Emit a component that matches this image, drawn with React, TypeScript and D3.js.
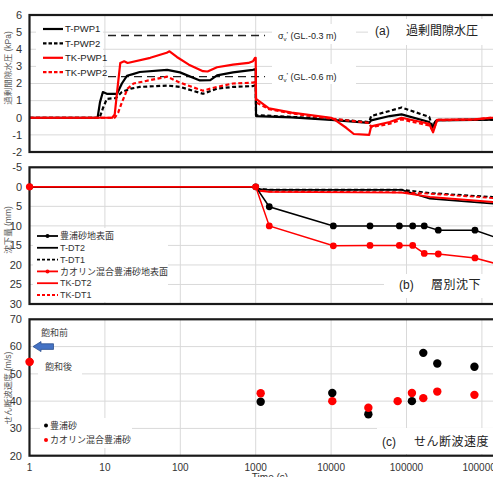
import React from 'react';
import * as d3 from 'd3';

// ---------- axes ----------
const TIME_TICKS = [1, 10, 100, 1000, 10000, 100000, 1000000, 10000000];
const TIME_LABELS = ['1', '10', '100', '1000', '10000', '100000', '1000000', ''];
const PWP_TICKS = [-2, -1, 0, 1, 2, 3, 4, 5, 6];
const SETTLE_TICKS = [-5, 0, 5, 10, 15, 20, 25, 30];
const VS_TICKS = [20, 30, 40, 50, 60, 70];

// ---------- (a) excess pore water pressure ----------
const T_PWP1_T = [1, 8, 8.6, 9.4, 10.6, 14.5, 16.8, 19.6, 23.5, 29, 67, 99, 182, 250, 307, 500, 920, 1000, 1010, 3000, 10000, 32000, 34000, 60000, 86000, 200000, 220000, 250000, 3000000];
const T_PWP1_V = [0, 0, 0.9, 1.5, 1.4, 1.4, 2.0, 2.45, 2.55, 2.67, 2.8, 2.65, 2.18, 2.2, 2.47, 2.65, 2.8, 2.85, 0.1, 0.02, -0.12, -0.3, -0.15, 0.1, 0.2, -0.25, -0.6, -0.15, -0.1];
const T_PWP2_T = [1, 8.5, 9.5, 10.6, 14, 16.8, 22, 29, 67, 99, 200, 307, 500, 920, 1000, 1010, 3000, 10000, 32000, 34000, 60000, 86000, 200000, 220000, 250000, 3000000];
const T_PWP2_V = [0, 0, 0.6, 1.1, 1.15, 1.5, 1.7, 1.8, 1.88, 1.8, 1.4, 1.7, 1.8, 1.85, 1.9, 0.15, 0.05, -0.08, -0.25, 0.1, 0.4, 0.6, 0.05, -0.5, -0.12, -0.1];
const TK_PWP1_T = [1, 12.5, 13.5, 14.5, 16, 18, 20, 40, 66, 72, 90, 130, 200, 230, 307, 500, 800, 920, 980, 1000, 1010, 1500, 3000, 10000, 11000, 16000, 20000, 32000, 34000, 60000, 86000, 200000, 225000, 255000, 800000, 3000000];
const TK_PWP1_V = [0, 0, 0.2, 1.5, 3.2, 3.3, 3.2, 3.5, 3.8, 3.88, 3.55, 3.1, 2.72, 2.7, 2.95, 3.1, 3.2, 3.3, 3.5, 3.5, 1.1, 0.55, 0.3, 0.0, -0.1, -0.6, -0.95, -1.0, -0.5, -0.25, 0.0, -0.35, -0.85, -0.12, -0.1, 0.15];
const TK_PWP2_T = [1, 13.5, 15, 16.8, 20, 24, 67, 99, 200, 250, 307, 500, 920, 1000, 1010, 1500, 3000, 10000, 20000, 32000, 34000, 60000, 86000, 200000, 225000, 255000, 800000, 3000000];
const TK_PWP2_V = [0, 0, 0.3, 0.9, 1.7, 2.0, 2.4, 2.05, 1.58, 1.7, 1.8, 2.0, 2.05, 2.1, 0.9, 0.5, 0.25, -0.05, -0.2, -0.3, -0.55, -0.35, -0.1, -0.45, -0.75, -0.15, -0.1, 0.15];
const SIGMA_V_LEVELS = [4.8, 2.4];
const SIGMA_V_LABELS = [' (GL.-0.3 m)', ' (GL.-0.6 m)'];
const SIGMA_V_SPAN = [11, 1330];

// ---------- (b) settlement ----------
const SURF_T = [1, 1000, 1514, 10700, 32800, 80400, 120800, 172000, 264000, 809000, 2600000];
const T_SURF_V = [0, 0, 5.1, 10, 10, 10, 10, 10, 11.1, 11.1, 14.5];
const TK_SURF_V = [0, 0, 10, 15.1, 15, 15, 15, 17.05, 17.2, 18.2, 20.9];
const DT_T = [1, 1000, 1100, 1500, 86000, 204000, 3000000];
const T_DT2_V = [0, 0, 0.6, 0.8, 0.8, 3.0, 4.8];
const T_DT1_V = [0, 0, 0.5, 0.7, 0.7, 1.56, 3.0];
const TK_DT2_V = [0, 0, 1.0, 1.3, 1.5, 2.6, 4.4];
const TK_DT1_V = [0, 0, 0.9, 1.2, 1.4, 1.77, 3.3];

// ---------- (c) shear wave velocity ----------
const VS_T_T = [1164, 10370, 31200, 118000, 167000, 256000, 796000];
const VS_T_V = [39.8, 43, 35.2, 40, 57.7, 53.8, 52.6];
const VS_TK_T = [1, 1164, 10370, 31200, 76300, 118000, 167000, 256000, 796000];
const VS_TK_V = [54.4, 42.9, 40, 37.6, 40, 43, 41.1, 43.5, 42.3];
const VS_PRE_SAT = 60;

const FONT = '"Liberation Sans", Arial, "Noto Sans CJK JP", sans-serif';
const GRID = '#d9d9d9';
const RED = '#ff0000';
const BLK = '#000000';

const X0 = 29.5;
const DEC = 75.4;
const x = d3.scaleLog().domain([1, 1e7]).range([X0, X0 + 7 * DEC]);
const RIGHT = 560;

const yA = d3.scaleLinear().domain([-2, 6]).range([152, 15]);
const yB = d3.scaleLinear().domain([-5, 30]).range([167.3, 304]);
const yC = d3.scaleLinear().domain([20, 70]).range([455.7, 319.3]);

const zip = (t: number[], v: number[]) => t.map((tt, i) => [tt, v[i]] as [number, number]);

function mkLine(y: d3.ScaleLinear<number, number>) {
  return d3.line<[number, number]>().x(d => x(d[0])).y(d => y(d[1]));
}

function ext(y: d3.ScaleLinear<number, number>) {
  const r = y.range();
  return [Math.min(r[0], r[1]), Math.max(r[0], r[1])];
}

function Grid({ y, ticks }: { y: d3.ScaleLinear<number, number>; ticks: number[] }) {
  const [top, bot] = ext(y);
  return (
    <g>
      {ticks.map(t => (
        <line key={'h' + t} x1={X0} x2={RIGHT} y1={y(t)} y2={y(t)} stroke={GRID} strokeWidth={1} />
      ))}
      {TIME_TICKS.map(t => (
        <line key={'v' + t} x1={x(t)} x2={x(t)} y1={top} y2={bot} stroke={GRID} strokeWidth={1} />
      ))}
    </g>
  );
}

function YTicks({ y, ticks }: { y: d3.ScaleLinear<number, number>; ticks: number[] }) {
  return (
    <g>
      {ticks.map(t => (
        <text key={t} x={22} y={y(t)} dy="0.35em" textAnchor="end" fontSize={11} fill="#333" fontFamily={FONT}>
          {t}
        </text>
      ))}
    </g>
  );
}

function Frame({ y }: { y: d3.ScaleLinear<number, number> }) {
  const [top, bot] = ext(y);
  return <rect x={X0} y={top} width={RIGHT - X0} height={bot - top} fill="none" stroke="#1a1a1a" strokeWidth={2.2} />;
}

function ClipDef({ id, y }: { id: string; y: d3.ScaleLinear<number, number> }) {
  const [top, bot] = ext(y);
  return (
    <clipPath id={id}>
      <rect x={X0} y={top} width={RIGHT - X0} height={bot - top} />
    </clipPath>
  );
}

export default function App() {
  const lA = mkLine(yA);
  const lB = mkLine(yB);

  const aSeries = [
    { name: 'T-PWP1', t: T_PWP1_T, v: T_PWP1_V, color: BLK, dash: '' },
    { name: 'T-PWP2', t: T_PWP2_T, v: T_PWP2_V, color: BLK, dash: '4,2.5' },
    { name: 'TK-PWP1', t: TK_PWP1_T, v: TK_PWP1_V, color: RED, dash: '' },
    { name: 'TK-PWP2', t: TK_PWP2_T, v: TK_PWP2_V, color: RED, dash: '4,2.5' },
  ];
  const bLines = [
    { name: 'T-DT2', v: T_DT2_V, color: BLK, dash: '' },
    { name: 'T-DT1', v: T_DT1_V, color: BLK, dash: '4,2.5' },
    { name: 'TK-DT2', v: TK_DT2_V, color: RED, dash: '' },
    { name: 'TK-DT1', v: TK_DT1_V, color: RED, dash: '4,2.5' },
  ];
  const bLegend = [
    { name: '豊浦砂地表面', color: BLK, dash: '', marker: true },
    { name: 'T-DT2', color: BLK, dash: '', marker: false },
    { name: 'T-DT1', color: BLK, dash: '3,2', marker: false },
    { name: 'カオリン混合豊浦砂地表面', color: RED, dash: '', marker: true },
    { name: 'TK-DT2', color: RED, dash: '', marker: false },
    { name: 'TK-DT1', color: RED, dash: '3,2', marker: false },
  ];

  const arrowY = yC(VS_PRE_SAT);

  return (
    <svg width={493} height={477} style={{ position: 'absolute', left: 0, top: 0, background: '#fff' }} fontFamily={FONT}>
      <defs>
        <ClipDef id="ca" y={yA} />
        <ClipDef id="cb" y={yB} />
        <ClipDef id="cc" y={yC} />
      </defs>
      <rect x={0} y={0} width={493} height={477} fill="#fff" />

      {/* ===== Panel (a) ===== */}
      <Grid y={yA} ticks={PWP_TICKS} />
      <rect x={36} y={20} width={67} height={60} fill="#fff" />
      <rect x={368} y={19} width={125} height={26} fill="#fff" />
      <rect x={272} y={24} width={84} height={20} fill="#fff" />
      <rect x={272} y={64} width={84} height={20} fill="#fff" />
      <g clipPath="url(#ca)">
        {SIGMA_V_LEVELS.map(l => (
          <line key={l} x1={x(SIGMA_V_SPAN[0])} x2={x(SIGMA_V_SPAN[1])} y1={yA(l)} y2={yA(l)} stroke="#222" strokeWidth={1.4} strokeDasharray="8,5" />
        ))}
        {aSeries.map(s => (
          <path key={s.name} d={lA(zip(s.t, s.v)) || ''} fill="none" stroke={s.color} strokeWidth={2.2} strokeDasharray={s.dash} strokeLinejoin="round" />
        ))}
      </g>
      {SIGMA_V_LEVELS.map((l, i) => (
        <text key={'s' + l} x={278} y={yA(l)} dy="0.35em" fontSize={9} fill="#222">
          σ<tspan fontSize={6} dy={2}>v</tspan><tspan dy={-4} fontSize={8}>'</tspan><tspan dy={2}>{SIGMA_V_LABELS[i]}</tspan>
        </text>
      ))}
      {aSeries.map((s, i) => (
        <g key={'la' + s.name}>
          <line x1={43} x2={63} y1={29 + i * 14.4} y2={29 + i * 14.4} stroke={s.color} strokeWidth={2.2} strokeDasharray={s.dash ? '3.5,2' : ''} />
          <text x={65} y={29 + i * 14.4} dy="0.35em" fontSize={9.5} fill="#222">{s.name}</text>
        </g>
      ))}
      <text x={375} y={31} dy="0.35em" fontSize={12} fill="#222">(a)</text>
      <text x={406} y={31} dy="0.35em" fontSize={12} fill="#222">過剰間隙水圧</text>
      <Frame y={yA} />
      <YTicks y={yA} ticks={PWP_TICKS} />
      <text transform={`translate(8,68) rotate(-90)`} textAnchor="middle" fontSize={8.5} fill="#595959" dy="0.35em">過剰間隙水圧 (kPa)</text>

      {/* ===== Panel (b) ===== */}
      <Grid y={yB} ticks={SETTLE_TICKS} />
      <rect x={33} y={228} width={135} height={74} fill="#fff" />
      <rect x={384} y={274} width={109} height={24} fill="#fff" />
      <g clipPath="url(#cb)">
        {bLines.map(s => (
          <path key={s.name} d={lB(zip(DT_T, s.v)) || ''} fill="none" stroke={s.color} strokeWidth={1.8} strokeDasharray={s.dash} strokeLinejoin="round" />
        ))}
        <path d={lB(zip(SURF_T, T_SURF_V)) || ''} fill="none" stroke={BLK} strokeWidth={1.5} />
        {SURF_T.map((t, i) => (
          <circle key={'bk' + i} cx={x(t)} cy={yB(T_SURF_V[i])} r={3.4} fill={BLK} />
        ))}
        <path d={lB(zip(SURF_T, TK_SURF_V)) || ''} fill="none" stroke={RED} strokeWidth={1.5} />
        {SURF_T.map((t, i) => (
          <circle key={'br' + i} cx={x(t)} cy={yB(TK_SURF_V[i])} r={3.4} fill={RED} />
        ))}
      </g>
      {bLegend.map((s, i) => {
        const yy = 236 + i * 11.8;
        return (
          <g key={'lb' + i}>
            <line x1={37} x2={58} y1={yy} y2={yy} stroke={s.color} strokeWidth={1.8} strokeDasharray={s.dash} />
            {s.marker && <circle cx={47.5} cy={yy} r={2} fill={s.color} />}
            <text x={60} y={yy} dy="0.35em" fontSize={9} fill="#333">{s.name}</text>
          </g>
        );
      })}
      <text x={399} y={285} dy="0.35em" fontSize={12} fill="#222">(b)</text>
      <text x={431} y={285} dy="0.35em" fontSize={12} fill="#222" letterSpacing={0.5}>層別沈下</text>
      <Frame y={yB} />
      {/* red marker at t=1 sits on the axis line */}
      <circle cx={x(SURF_T[0])} cy={yB(TK_SURF_V[0])} r={3.6} fill={RED} />
      <YTicks y={yB} ticks={SETTLE_TICKS} />
      <text transform={`translate(8,230) rotate(-90)`} textAnchor="middle" fontSize={8.5} fill="#595959" dy="0.35em">沈下量 (mm)</text>

      {/* ===== Panel (c) ===== */}
      <Grid y={yC} ticks={VS_TICKS} />
      <rect x={36} y={325} width={36} height={18} fill="#fff" />
      <rect x={38} y={359} width={44} height={18} fill="#fff" />
      <rect x={40} y={418} width={92} height={30} fill="#fff" />
      <rect x={377} y={428} width={116} height={26} fill="#fff" />
      <g clipPath="url(#cc)">
        {VS_T_T.map((t, i) => (
          <circle key={'ck' + i} cx={x(t)} cy={yC(VS_T_V[i])} r={4.2} fill={BLK} />
        ))}
        {VS_TK_T.map((t, i) => (
          <circle key={'cr' + i} cx={x(t)} cy={yC(VS_TK_V[i])} r={4.2} fill={RED} />
        ))}
      </g>
      <path
        d={`M${33},${arrowY} L${41},${arrowY - 5} L${41},${arrowY - 2.8} L${53.5},${arrowY - 2.8} L${53.5},${arrowY + 2.8} L${41},${arrowY + 2.8} L${41},${arrowY + 5} Z`}
        fill="#4472c4" stroke="#2f528f" strokeWidth={0.8}
      />
      <text x={41} y={333} dy="0.35em" fontSize={9} fill="#444">飽和前</text>
      <text x={45} y={367} dy="0.35em" fontSize={9} fill="#444">飽和後</text>
      <circle cx={46} cy={425.5} r={2} fill={BLK} />
      <text x={50} y={425.5} dy="0.35em" fontSize={9} fill="#333">豊浦砂</text>
      <circle cx={46} cy={440} r={2} fill={RED} />
      <text x={50} y={440} dy="0.35em" fontSize={9} fill="#333">カオリン混合豊浦砂</text>
      <text x={382} y={441.5} dy="0.35em" fontSize={12} fill="#222">(c)</text>
      <text x={414} y={441.5} dy="0.35em" fontSize={12} fill="#222" letterSpacing={0.5}>せん断波速度</text>
      <Frame y={yC} />
      <circle cx={x(VS_TK_T[0])} cy={yC(VS_TK_V[0])} r={4.2} fill={RED} />
      <YTicks y={yC} ticks={VS_TICKS} />
      <text transform={`translate(8,388) rotate(-90)`} textAnchor="middle" fontSize={8.5} fill="#595959" dy="0.35em">せん断波速度 (m/s)</text>

      {/* x axis */}
      {TIME_TICKS.map((t, i) => (
        TIME_LABELS[i] ? <text key={'xt' + t} x={x(t)} y={467} dy="0.35em" textAnchor="middle" fontSize={10} fill="#333">{TIME_LABELS[i]}</text> : null
      ))}
      <text x={270} y={481} textAnchor="middle" fontSize={10} fill="#333">Time (s)</text>
    </svg>
  );
}
